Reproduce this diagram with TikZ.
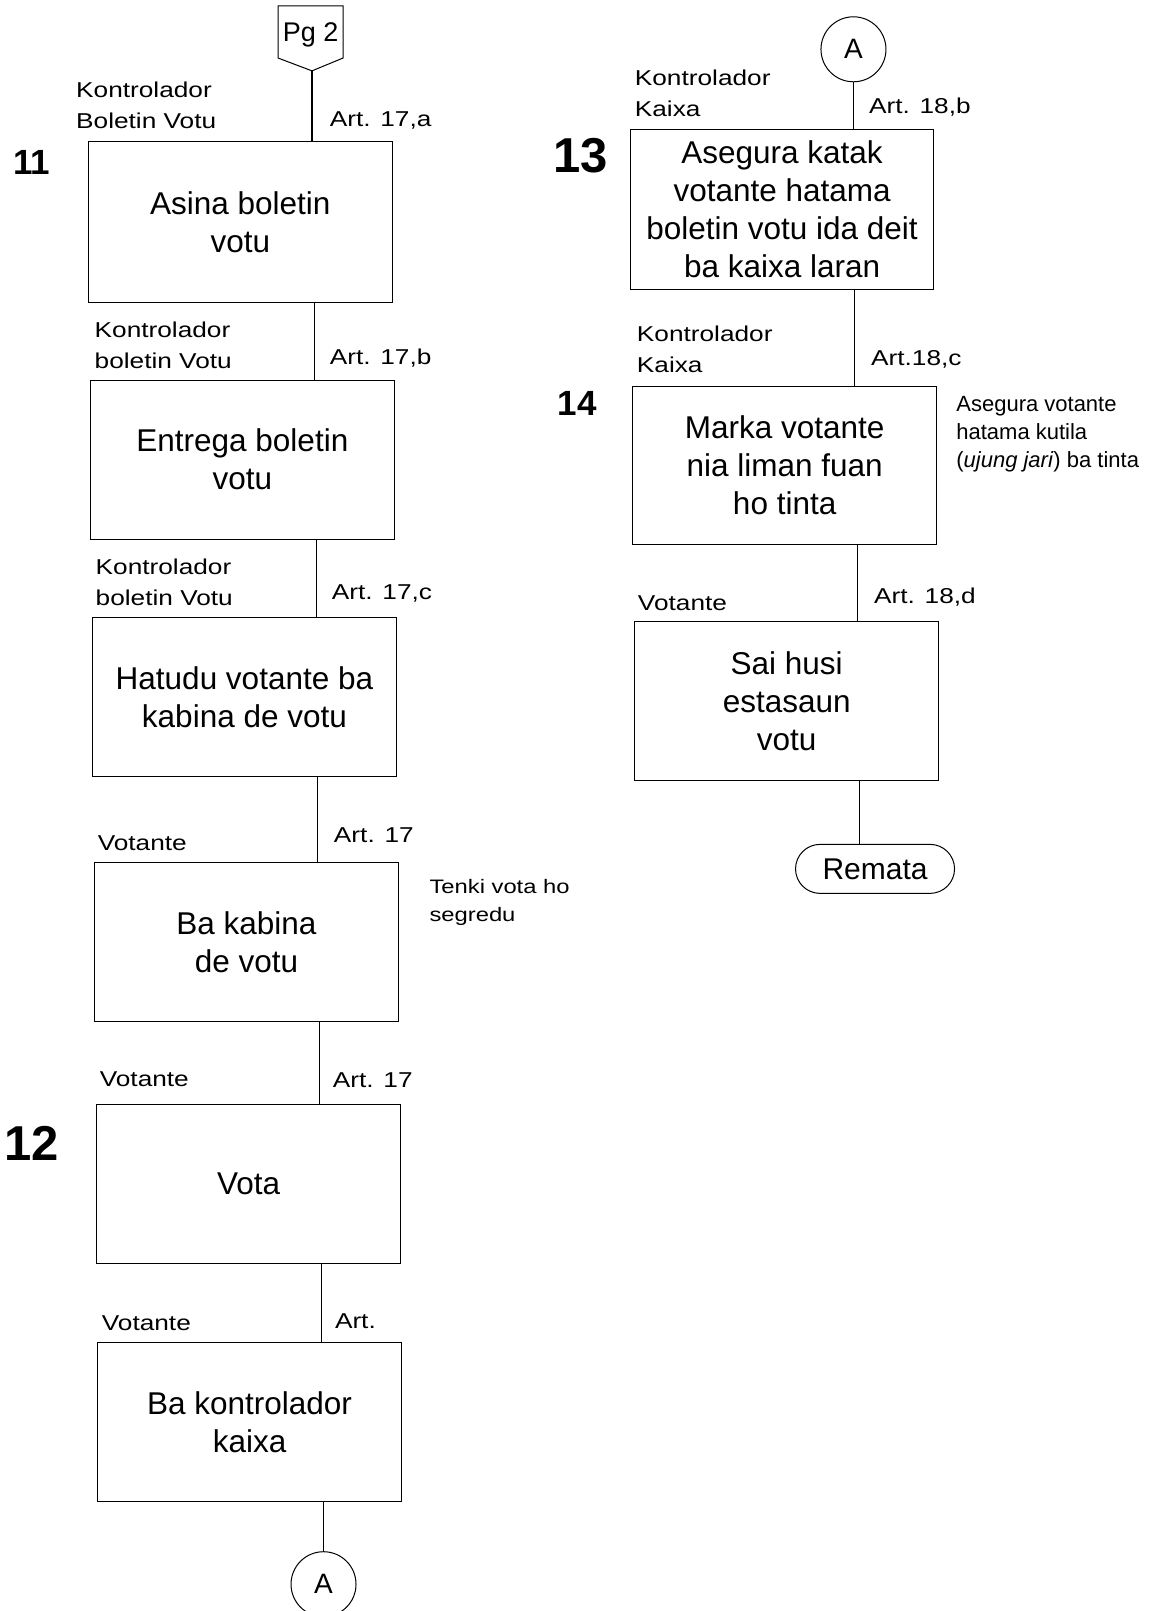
\documentclass[tikz,border=0pt]{standalone}
\usepackage{fontspec}
\setmainfont{Liberation Sans}
\newfontfamily\widefont[FakeStretch=1.22]{Liberation Sans}
\newfontfamily\notefont[FakeStretch=1.22]{Liberation Sans}
\usetikzlibrary{shapes.misc}
\tikzset{
  box/.style={draw, line width=1pt, minimum width=304pt, minimum height=159pt, align=center, inner sep=0pt,
    font=\fontsize{31.5}{38}\selectfont},
  lab/.style={anchor=west, align=left, inner sep=0pt, font=\widefont\fontsize{21.5}{31}\selectfont},
  note/.style={anchor=west, align=left, inner sep=0pt, font=\fontsize{22}{28}\selectfont},
  bignum/.style={inner sep=0pt, font=\bfseries\fontsize{49}{49}\selectfont},
  smallnum/.style={inner sep=0pt, font=\bfseries\fontsize{35}{35}\selectfont},
  conn/.style={draw, circle, line width=1pt, minimum size=65pt, inner sep=0pt, font=\fontsize{28}{28}\selectfont},
  link/.style={line width=1.2pt},
}
\begin{document}
\begin{tikzpicture}[x=1.027pt, y=-1.027pt]
\useasboundingbox (0,0) rectangle (1133.4,1568.6);
% ---------------- left column ----------------
\node[inner sep=0pt, font=\fontsize{27}{27}\selectfont] (pg) at (302.5,34) {Pg 2};
\draw[line width=1pt] (270.7,5.8) -- (334,5.8) -- (334,56.5) -- (303.8,69) -- (270.7,56.5) -- cycle;
\coordinate (pgtip) at (303.8,69);

\node[lab] (lab1) at (74,103) {Kontrolador\\Boletin Votu};
\node[lab] (art1) at (321,117) {Art. 17,a};
\node[smallnum] (n11) at (31,158) {11};
\node[box, minimum height=161pt] (b1) at (234,216.5) {Asina boletin\\votu};

\node[lab] (lab2) at (92,336) {Kontrolador\\boletin Votu};
\node[lab] (art2) at (321,349) {Art. 17,b};
\node[box] (b2) at (236,447.5) {Entrega boletin\\votu};

\node[lab] (lab3) at (93,567) {Kontrolador\\boletin Votu};
\node[lab] (art3) at (323,578) {Art. 17,c};
\node[box] (b3) at (238,678.5) {Hatudu votante ba\\kabina de votu};

\node[lab] (lab4) at (95,821) {Votante};
\node[lab] (art4) at (325,813) {Art. 17};
\node[box] (b4) at (240,917.5) {Ba kabina\\de votu};
\node[anchor=west, align=left, inner sep=0pt, font=\notefont\fontsize{19.5}{28}\selectfont] (note1) at (418,879) {Tenki vota ho\\segredu};

\node[lab] (lab5) at (97,1051) {Votante};
\node[lab] (art5) at (324,1052) {Art. 17};
\node[bignum] (n12) at (31,1113) {12};
\node[box] (b5) at (242,1152.5) {Vota};

\node[lab] (lab6) at (99,1288) {Votante};
\node[lab] (art6) at (326,1286) {Art.};
\node[box] (b6) at (243,1385) {Ba kontrolador\\kaixa};

\node[conn] (a2) at (315,1542.5) {A};

\coordinate (x2) at (306,0);
\coordinate (x3) at (308,0);
\coordinate (x4) at (309.5,0);
\coordinate (x5) at (311,0);
\coordinate (x6) at (313,0);
\draw[link] (pgtip) -- (pgtip |- b1.north);
\draw[link] (b1.south -| x2) -- (b2.north -| x2);
\draw[link] (b2.south -| x3) -- (b3.north -| x3);
\draw[link] (b3.south -| x4) -- (b4.north -| x4);
\draw[link] (b4.south -| x5) -- (b5.north -| x5);
\draw[link] (b5.south -| x6) -- (b6.north -| x6);
\draw[link] (b6.south -| a2) -- (a2.north);

% ---------------- right column ----------------
\node[conn] (a1) at (831,48) {A};
\node[lab] (lab7) at (618,91) {Kontrolador\\Kaixa};
\node[lab] (art7) at (846,104) {Art. 18,b};
\node[bignum] (n13) at (565,152) {13};
\node[box, minimum width=303pt, minimum height=160pt] (b7) at (761.5,204) {Asegura katak\\votante hatama\\boletin votu ida deit\\ba kaixa laran};

\node[lab] (lab8) at (620,340) {Kontrolador\\Kaixa};
\node[lab] (art8) at (848,350) {Art.18,c};
\node[smallnum] (n14) at (562,393) {14};
\node[box, minimum height=158pt] (b8) at (764,453) {Marka votante\\nia liman fuan\\ho tinta};
\node[note] (note2) at (931,423) {Asegura votante\\hatama kutila\\(\textit{ujung jari}) ba tinta};

\node[lab] (lab9) at (621,587) {Votante};
\node[lab] (art9) at (851,581) {Art. 18,d};
\node[box] (b9) at (766,682.5) {Sai husi\\estasaun\\votu};

\node[draw, rounded rectangle, line width=1pt, minimum width=159pt, minimum height=49pt, inner sep=0pt,
  font=\fontsize{30}{30}\selectfont] (end) at (852,846) {Remata};

\coordinate (y2) at (832,0);
\coordinate (y3) at (835,0);
\coordinate (y4) at (837,0);
\draw[link] (a1.south) -- (a1.south |- b7.north);
\draw[link] (b7.south -| y2) -- (b8.north -| y2);
\draw[link] (b8.south -| y3) -- (b9.north -| y3);
\draw[link] (b9.south -| y4) -- (end.north -| y4);
\end{tikzpicture}
\end{document}
